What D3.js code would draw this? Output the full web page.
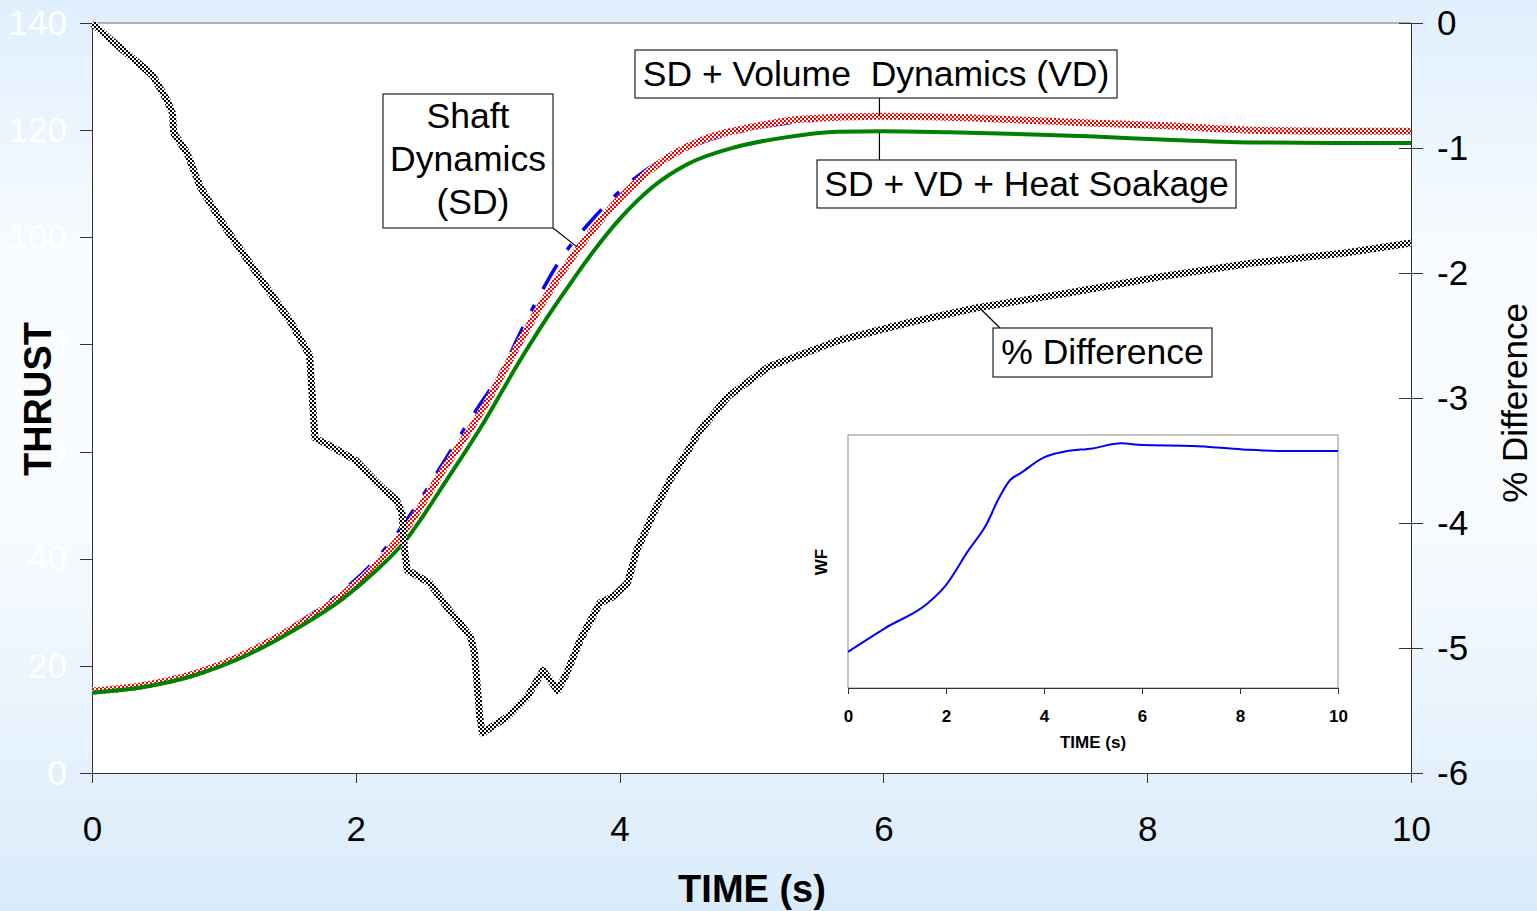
<!DOCTYPE html>
<html lang="en">
<head>
<meta charset="utf-8">
<title>Thrust response</title>
<script src="https://cdn.jsdelivr.net/npm/d3@7"></script>
<style>
  html, body { margin: 0; padding: 0; }
  body { width: 1537px; height: 911px; overflow: hidden; font-family: "Liberation Sans", Arial, sans-serif; }
  svg text { font-family: "Liberation Sans", Arial, sans-serif; }
  .axis path, .axis line { stroke: #333; shape-rendering: crispEdges; }
  .lbl { white-space: pre; }
</style>
</head>
<body>
<script>
// ---- data ----
var xTicks = [0, 2, 4, 6, 8, 10];
var thrustTicks = [0, 20, 40, 60, 80, 100, 120, 140];
var pctTicks = [-6, -5, -4, -3, -2, -1, 0];

// SD + VD + Heat Soakage (green)
var tGreen = [0, 0.38, 0.76, 1.14, 1.52, 1.90, 2.15, 2.39, 2.5, 2.66, 2.96, 3.24, 3.45, 3.65, 3.79, 4.0, 4.25, 4.51, 4.89, 5.27, 5.65, 6.0, 6.5, 7.13, 7.6, 8.15, 8.78, 9.4, 10];
var vGreen = [15.0, 16.0, 18.1, 21.6, 26.5, 32.5, 37.7, 43.8, 47.6, 53.6, 65.0, 76.8, 85.0, 92.2, 97.0, 103.4, 109.4, 113.6, 116.9, 118.7, 119.7, 119.8, 119.6, 119.2, 118.8, 118.2, 117.7, 117.6, 117.6];

// SD + Volume Dynamics (red)
var tRed = [0, 0.38, 0.76, 1.14, 1.52, 1.90, 2.15, 2.39, 2.66, 2.96, 3.24, 3.40, 3.68, 4.0, 4.25, 4.63, 5.01, 5.39, 5.97, 6.5, 7.13, 7.6, 8.15, 8.78, 9.4, 10];
var vRed = [15.3, 16.3, 18.4, 22.0, 27.0, 33.3, 38.8, 45.9, 56.5, 67.8, 80.3, 87.2, 97.6, 107.2, 112.9, 118.2, 120.6, 122.1, 122.6, 122.4, 121.8, 121.3, 120.8, 120.0, 119.8, 119.8];

// Shaft Dynamics (blue dashed)
var tBlue = [0, 0.38, 0.76, 1.14, 1.52, 1.90, 2.15, 2.43, 2.66, 2.96, 3.07, 3.30, 3.55, 3.80, 4.1, 4.36, 4.61, 5.0, 5.5, 6.0, 7, 8, 9, 10];
var vBlue = [15.3, 16.3, 18.5, 22.2, 27.4, 34.0, 39.8, 48.8, 57.8, 69.5, 73.5, 84.8, 95.8, 103.5, 110.7, 115.0, 117.6, 120.2, 121.9, 122.4, 121.8, 120.8, 119.9, 119.7];

// % Difference (right axis)
var tPct = [0, 0.16, 0.34, 0.46, 0.57, 0.61, 0.62, 0.72, 0.82, 1.0, 1.3, 1.5, 1.65, 1.69, 1.80, 2.0, 2.18, 2.31, 2.35, 2.37, 2.39, 2.43, 2.56, 2.71, 2.87, 2.90, 2.94, 2.96, 3.15, 3.30, 3.42, 3.53, 3.60, 3.70, 3.85, 3.95, 4.06, 4.13, 4.28, 4.38, 4.61, 4.82, 5.13, 5.66, 6.18, 6.70, 7.40, 8.10, 8.80, 9.50, 10];
var vPct = [0, -0.15, -0.31, -0.42, -0.62, -0.72, -0.88, -1.04, -1.31, -1.62, -2.08, -2.38, -2.66, -3.32, -3.38, -3.5, -3.70, -3.82, -3.92, -4.22, -4.38, -4.40, -4.48, -4.70, -4.91, -5.04, -5.55, -5.68, -5.55, -5.39, -5.18, -5.34, -5.2, -4.94, -4.64, -4.59, -4.48, -4.22, -3.87, -3.66, -3.26, -2.99, -2.75, -2.54, -2.40, -2.28, -2.16, -2.03, -1.92, -1.84, -1.76];

// inset: fuel flow WF (no y scale shown, relative units)
var tWF = [0, 0.76, 1.64, 2.0, 2.44, 2.84, 3.06, 3.31, 3.53, 3.97, 4.41, 4.99, 5.57, 6.0, 7.03, 8.05, 8.78, 10];
var vWF = [0.143, 0.237, 0.337, 0.407, 0.539, 0.652, 0.743, 0.822, 0.850, 0.909, 0.934, 0.947, 0.967, 0.960, 0.957, 0.943, 0.937, 0.937];
var insetTicks = [0, 2, 4, 6, 8, 10];

function zipSeries(ts, vs) { return ts.map(function(t, i) { return [t, vs[i]]; }); }

// ---- layout ----
var W = 1537, H = 911;
var svg = d3.select("body").append("svg").attr("width", W).attr("height", H);
var defs = svg.append("defs");

var bg = defs.append("linearGradient").attr("id", "bg").attr("x1", 0).attr("y1", 0).attr("x2", 0).attr("y2", 1);
bg.append("stop").attr("offset", "0").attr("stop-color", "#e0effd");
bg.append("stop").attr("offset", "0.3").attr("stop-color", "#f9fcff");
bg.append("stop").attr("offset", "0.55").attr("stop-color", "#f9fcff");
bg.append("stop").attr("offset", "1").attr("stop-color", "#d9ebfa");

function checker(id, col) {
  var p = defs.append("pattern").attr("id", id).attr("width", 4).attr("height", 4)
    .attr("patternUnits", "userSpaceOnUse");
  p.append("rect").attr("width", 4).attr("height", 4).attr("fill", "#fff");
  p.append("rect").attr("width", 2).attr("height", 2).attr("fill", col);
  p.append("rect").attr("x", 2).attr("y", 2).attr("width", 2).attr("height", 2).attr("fill", col);
}
checker("chkRed", "#ff0000");
checker("chkBlack", "#000000");

svg.append("rect").attr("width", W).attr("height", H).attr("fill", "url(#bg)");

var x = d3.scaleLinear().domain([0, 10]).range([92, 1411]);
var yL = d3.scaleLinear().domain([0, 140]).range([773, 23]);
var yR = d3.scaleLinear().domain([-6, 0]).range([773, 23]);

// plot area
svg.append("rect").attr("x", x(0)).attr("y", yL(140)).attr("width", x(10) - x(0)).attr("height", yL(0) - yL(140))
  .attr("fill", "#fff");
svg.append("line").attr("x1", x(0)).attr("x2", x(10)).attr("y1", yL(140)).attr("y2", yL(140))
  .attr("stroke", "#999").attr("stroke-width", 1.5);

// axes
var gL = svg.append("g").attr("class", "axis").attr("transform", "translate(" + x(0) + ",0)")
  .call(d3.axisLeft(yL).tickValues(thrustTicks).tickSize(12).tickPadding(13).tickSizeOuter(0));
gL.selectAll("text").attr("fill", "#fff").attr("font-size", "35px");
gL.select(".domain").attr("stroke-width", 1.5);

var gR = svg.append("g").attr("class", "axis").attr("transform", "translate(" + x(10) + ",0)")
  .call(d3.axisRight(yR).tickValues(pctTicks).tickSize(12).tickPadding(14).tickSizeOuter(0)
    .tickFormat(function(d) { return String(d); }));
gR.selectAll(".tick line").attr("x1", -12);
gR.selectAll("text").attr("fill", "#000").attr("font-size", "35px");
gR.select(".domain").attr("stroke-width", 1.5);
gR.append("line").attr("x1", 0).attr("x2", 0).attr("y1", yR(-6)).attr("y2", yR(-6) + 10);

var gB = svg.append("g").attr("class", "axis").attr("transform", "translate(0," + yL(0) + ")")
  .call(d3.axisBottom(x).tickValues(xTicks).tickSize(10).tickPadding(33).tickSizeOuter(0));
gB.selectAll("text").attr("fill", "#000").attr("font-size", "35px");
gB.select(".domain").attr("stroke-width", 1.5);

// axis titles
svg.append("text").attr("transform", "translate(51," + 399 + ") rotate(-90)")
  .attr("text-anchor", "middle").attr("font-size", "38px").attr("font-weight", "bold").text("THRUST");
svg.append("text").attr("transform", "translate(1527," + 403 + ") rotate(-90)")
  .attr("text-anchor", "middle").attr("font-size", "35px").text("% Difference");
svg.append("text").attr("x", 752).attr("y", 902)
  .attr("text-anchor", "middle").attr("font-size", "38px").attr("font-weight", "bold").text("TIME (s)");

// inset
var xi = d3.scaleLinear().domain([0, 10]).range([848, 1338]);
var yi = d3.scaleLinear().domain([0, 1]).range([688, 435]);
svg.append("rect").attr("x", xi(0)).attr("y", yi(1)).attr("width", xi(10) - xi(0)).attr("height", yi(0) - yi(1))
  .attr("fill", "#fff").attr("stroke", "#8c8c8c").attr("stroke-width", 1);
var gi = svg.append("g").attr("class", "axis").attr("transform", "translate(0," + yi(0) + ")")
  .call(d3.axisBottom(xi).tickValues(insetTicks).tickSize(6).tickPadding(16).tickSizeOuter(0));
gi.selectAll("text").attr("font-size", "17px").attr("font-weight", "bold").attr("fill", "#000");
gi.select(".domain").attr("stroke-width", 1.5);
svg.append("text").attr("x", (xi(0) + xi(10)) / 2).attr("y", 748).attr("text-anchor", "middle")
  .attr("font-size", "17px").attr("font-weight", "bold").text("TIME (s)");
svg.append("text").attr("transform", "translate(827,562) rotate(-90)").attr("text-anchor", "middle")
  .attr("font-size", "17px").attr("font-weight", "bold").text("WF");
svg.append("path").datum(zipSeries(tWF, vWF))
  .attr("fill", "none").attr("stroke", "#0000ff").attr("stroke-width", 2)
  .attr("d", d3.line().x(function(d) { return xi(d[0]); }).y(function(d) { return yi(d[1]); }).curve(d3.curveMonotoneX));

// thrust lines
var lineL = d3.line().x(function(d) { return x(d[0]); }).y(function(d) { return yL(d[1]); }).curve(d3.curveMonotoneX);
var lineR = d3.line().x(function(d) { return x(d[0]); }).y(function(d) { return yR(d[1]); });

svg.append("path").datum(zipSeries(tBlue, vBlue))
  .attr("fill", "none").attr("stroke", "#0000ff").attr("stroke-width", 3.5)
  .attr("stroke-dasharray", "28,18,7,18").attr("d", lineL);
svg.append("path").datum(zipSeries(tRed, vRed))
  .attr("fill", "none").attr("stroke", "url(#chkRed)").attr("stroke-width", 7).attr("d", lineL);
svg.append("path").datum(zipSeries(tGreen, vGreen))
  .attr("fill", "none").attr("stroke", "#008000").attr("stroke-width", 4).attr("d", lineL);
svg.append("path").datum(zipSeries(tPct, vPct))
  .attr("fill", "none").attr("stroke", "url(#chkBlack)").attr("stroke-width", 7)
  .attr("stroke-linejoin", "round").attr("d", lineR);

// callout boxes
function callout(bx, by, bw, bh, lines, lineGap, firstBase, from, to) {
  svg.append("line").attr("x1", from[0]).attr("y1", from[1]).attr("x2", to[0]).attr("y2", to[1])
    .attr("stroke", "#000").attr("stroke-width", 1.2);
  svg.append("rect").attr("x", bx).attr("y", by).attr("width", bw).attr("height", bh)
    .attr("fill", "#fff").attr("stroke", "#222").attr("stroke-width", 1.2);
  lines.forEach(function(s, i) {
    svg.append("text").attr("class", "lbl").attr("x", bx + bw / 2).attr("y", firstBase + i * lineGap)
      .attr("text-anchor", "middle").attr("font-size", "35.5px").text(s);
  });
}
callout(383, 94, 170, 134, ["Shaft", "Dynamics", " (SD)"], 43, 128, [553, 228], [x(3.68), yL(97.6) - 3]);
callout(635, 50, 482, 48, ["SD + Volume  Dynamics (VD)"], 0, 86, [x(5.97), 98], [x(5.97), yL(122.6)]);
callout(817, 160, 419, 48, ["SD + VD + Heat Soakage"], 0, 196, [x(5.97), 160], [x(5.97), yL(119.7)]);
callout(993, 328, 219, 49, ["% Difference"], 0, 364, [1000, 328], [x(6.72), yR(-2.27)]);
</script>
</body>
</html>
